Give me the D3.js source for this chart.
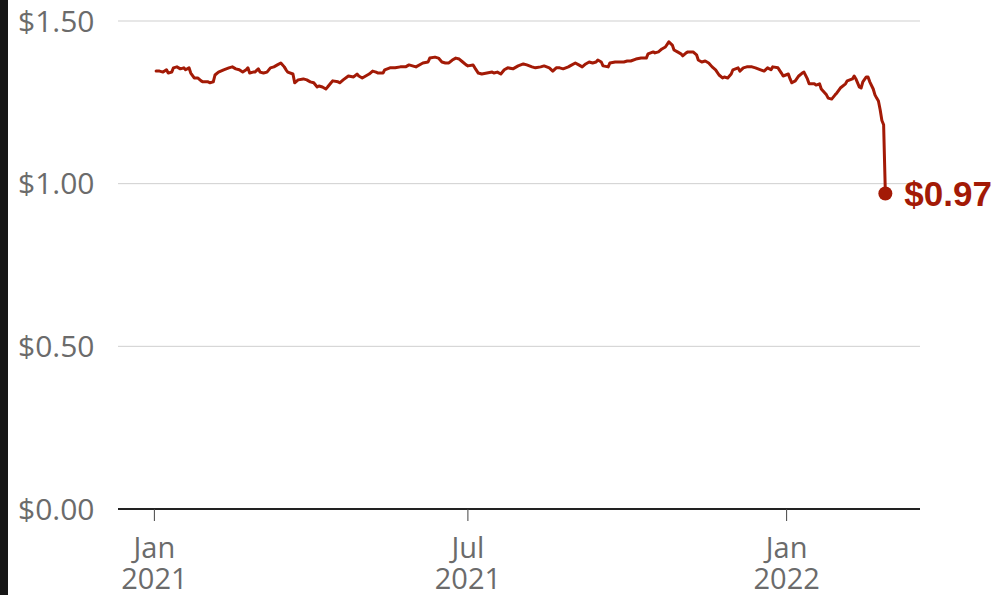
<!DOCTYPE html>
<html>
<head>
<meta charset="utf-8">
<script src="https://cdn.jsdelivr.net/npm/d3@7"></script>
<style>
  html, body { margin: 0; padding: 0; background: #fff; }
  svg { display: block; }
</style>
</head>
<body>
<svg id="chart" width="994" height="595"></svg>
<script>
const dates = [
"2021-01-02","2021-01-04","2021-01-06","2021-01-08","2021-01-09","2021-01-11","2021-01-12","2021-01-14","2021-01-16","2021-01-18",
"2021-01-19","2021-01-21","2021-01-22","2021-01-24","2021-01-26","2021-01-28","2021-01-29","2021-02-01","2021-02-02","2021-02-04",
"2021-02-05","2021-02-07","2021-02-10","2021-02-13","2021-02-15","2021-02-17","2021-02-19","2021-02-21","2021-02-23","2021-02-24",
"2021-02-25","2021-02-27","2021-02-28","2021-03-02","2021-03-03","2021-03-05","2021-03-07","2021-03-09","2021-03-11","2021-03-13",
"2021-03-15","2021-03-17","2021-03-18","2021-03-19","2021-03-22","2021-03-23","2021-03-25","2021-03-28","2021-03-30","2021-04-01",
"2021-04-03","2021-04-05","2021-04-06","2021-04-08","2021-04-10","2021-04-11","2021-04-13","2021-04-14","2021-04-17","2021-04-18",
"2021-04-20","2021-04-23","2021-04-26","2021-04-28","2021-04-29","2021-05-01","2021-05-03","2021-05-05","2021-05-07","2021-05-09",
"2021-05-10","2021-05-13","2021-05-14","2021-05-17","2021-05-20","2021-05-23","2021-05-26","2021-05-28","2021-05-30","2021-06-01",
"2021-06-04","2021-06-05","2021-06-08","2021-06-09","2021-06-12","2021-06-14","2021-06-16","2021-06-18","2021-06-20","2021-06-22",
"2021-06-24","2021-06-26","2021-06-28","2021-06-30","2021-07-01","2021-07-04","2021-07-05","2021-07-07","2021-07-09","2021-07-12",
"2021-07-15","2021-07-16","2021-07-18","2021-07-20","2021-07-22","2021-07-24","2021-07-27","2021-07-30","2021-08-02","2021-08-04",
"2021-08-07","2021-08-09","2021-08-12","2021-08-14","2021-08-17","2021-08-19","2021-08-21","2021-08-23","2021-08-25","2021-08-28",
"2021-08-29","2021-09-01","2021-09-03","2021-09-05","2021-09-07","2021-09-09","2021-09-11","2021-09-13","2021-09-14","2021-09-16",
"2021-09-17","2021-09-20","2021-09-21","2021-09-24","2021-09-27","2021-09-29","2021-10-01","2021-10-03","2021-10-06","2021-10-09",
"2021-10-12","2021-10-13","2021-10-16","2021-10-17","2021-10-19","2021-10-21","2021-10-23","2021-10-25","2021-10-27","2021-10-28",
"2021-10-30","2021-11-01","2021-11-02","2021-11-04","2021-11-05","2021-11-08","2021-11-10","2021-11-11","2021-11-13","2021-11-15",
"2021-11-17","2021-11-19","2021-11-21","2021-11-23","2021-11-25","2021-11-26","2021-11-28","2021-11-30","2021-12-01","2021-12-04",
"2021-12-05","2021-12-07","2021-12-09","2021-12-12","2021-12-14","2021-12-17","2021-12-19","2021-12-21","2021-12-23","2021-12-24",
"2021-12-27","2021-12-29","2021-12-30","2022-01-02","2022-01-03","2022-01-04","2022-01-06","2022-01-08","2022-01-10","2022-01-11",
"2022-01-13","2022-01-14","2022-01-17","2022-01-18","2022-01-20","2022-01-21","2022-01-24","2022-01-25","2022-01-27","2022-01-29",
"2022-01-30","2022-02-01","2022-02-04","2022-02-05","2022-02-08","2022-02-09","2022-02-10","2022-02-12","2022-02-13","2022-02-14",
"2022-02-16","2022-02-17","2022-02-18","2022-02-20","2022-02-21","2022-02-22","2022-02-23","2022-02-24","2022-02-25","2022-02-26",
"2022-02-27"
];
const values = [
1.346,1.346,1.343,1.350,1.340,1.343,1.356,1.359,1.353,1.356,
1.350,1.356,1.340,1.325,1.325,1.316,1.313,1.313,1.310,1.313,
1.334,1.343,1.350,1.356,1.359,1.353,1.350,1.343,1.350,1.356,
1.340,1.343,1.343,1.353,1.343,1.340,1.343,1.356,1.359,1.365,
1.371,1.359,1.350,1.343,1.337,1.310,1.319,1.322,1.319,1.313,
1.310,1.297,1.300,1.297,1.291,1.297,1.310,1.316,1.313,1.310,
1.319,1.331,1.328,1.337,1.331,1.325,1.331,1.337,1.346,1.343,
1.340,1.340,1.350,1.356,1.356,1.359,1.359,1.365,1.362,1.359,
1.368,1.371,1.374,1.386,1.389,1.386,1.374,1.371,1.371,1.380,
1.386,1.383,1.374,1.365,1.362,1.365,1.356,1.340,1.337,1.340,
1.343,1.340,1.343,1.337,1.350,1.356,1.353,1.362,1.368,1.365,
1.359,1.356,1.359,1.362,1.356,1.346,1.356,1.356,1.353,1.359,
1.362,1.371,1.365,1.359,1.368,1.374,1.371,1.374,1.380,1.374,
1.362,1.359,1.371,1.374,1.374,1.374,1.377,1.377,1.383,1.386,
1.386,1.399,1.405,1.402,1.405,1.414,1.420,1.436,1.426,1.411,
1.405,1.399,1.393,1.402,1.405,1.405,1.396,1.380,1.374,1.377,
1.371,1.359,1.350,1.334,1.325,1.328,1.325,1.337,1.350,1.356,
1.346,1.356,1.359,1.359,1.356,1.350,1.346,1.356,1.350,1.359,
1.356,1.340,1.331,1.337,1.322,1.310,1.316,1.331,1.340,1.343,
1.322,1.307,1.307,1.303,1.307,1.291,1.273,1.263,1.260,1.273,
1.279,1.294,1.307,1.316,1.322,1.331,1.322,1.297,1.294,1.313,
1.328,1.328,1.313,1.291,1.273,1.263,1.254,1.227,1.194,1.181,
0.97
];
const yTicks = [0, 0.5, 1.0, 1.5];
const yTickLabels = ["$0.00", "$0.50", "$1.00", "$1.50"];
const xTicks = ["2021-01-01", "2021-07-01", "2022-01-01"];
const xTickLabels = [["Jan", "2021"], ["Jul", "2021"], ["Jan", "2022"]];
const xDomain = ["2020-12-11", "2022-03-19"];
const endLabel = "$0.97";

const parse = d3.timeParse("%Y-%m-%d");
const data = dates.map((d, i) => ({ date: parse(d), value: values[i] }));

const svg = d3.select("#chart");
const red = "#a31a06";
const plotL = 118, plotR = 920, plotT = 21, plotB = 509;

// left dark strip
svg.append("rect").attr("x", 0).attr("y", 0).attr("width", 8).attr("height", 595).attr("fill", "#161616");

const x = d3.scaleTime().domain(xDomain.map(parse)).range([plotL, plotR]);
const y = d3.scaleLinear().domain([0, 1.5]).range([plotB, plotT]);

// grid lines
svg.append("g").selectAll("line").data(yTicks.filter(v => v > 0)).join("line")
  .attr("x1", plotL).attr("x2", plotR)
  .attr("y1", d => y(d)).attr("y2", d => y(d))
  .attr("stroke", "#cfcfcf").attr("stroke-width", 1);

// y labels
svg.append("g").selectAll("text").data(yTicks).join("text")
  .attr("x", 18).attr("y", d => y(d))
  .attr("dy", "0.36em")
  .attr("fill", "#6b6b6b")
  .attr("font-family", "'Open Sans', sans-serif")
  .attr("font-size", 30)
  .text((d, i) => yTickLabels[i]);

// baseline
svg.append("line").attr("x1", plotL).attr("x2", plotR).attr("y1", y(0)).attr("y2", y(0))
  .attr("stroke", "#222").attr("stroke-width", 2);

// x ticks
const xt = svg.append("g").selectAll("g").data(xTicks).join("g")
  .attr("transform", d => `translate(${x(parse(d))},0)`);
xt.append("line").attr("y1", y(0)).attr("y2", y(0) + 12).attr("stroke", "#444").attr("stroke-width", 1);
xt.each(function(d, i) {
  const t = d3.select(this).append("text")
    .attr("text-anchor", "middle")
    .attr("fill", "#6b6b6b")
    .attr("font-family", "'Open Sans', sans-serif")
    .attr("font-size", 29);
  t.append("tspan").attr("x", 0).attr("y", 558).text(xTickLabels[i][0]);
  t.append("tspan").attr("x", 0).attr("y", 589).text(xTickLabels[i][1]);
});

// line
const line = d3.line().x(d => x(d.date)).y(d => y(d.value));
svg.append("path").datum(data).attr("d", line)
  .attr("fill", "none").attr("stroke", red).attr("stroke-width", 3)
  .attr("stroke-linejoin", "round").attr("stroke-linecap", "round");

// end dot & label
const last = data[data.length - 1];
svg.append("circle").attr("cx", x(last.date)).attr("cy", y(last.value)).attr("r", 7).attr("fill", red);
svg.append("text").attr("x", x(last.date) + 19).attr("y", y(last.value))
  .attr("dy", "0.36em")
  .attr("fill", red)
  .attr("font-family", "'Liberation Sans', Arial, sans-serif")
  .attr("font-weight", "bold")
  .attr("font-size", 35)
  .text(endLabel);
</script>
</body>
</html>
